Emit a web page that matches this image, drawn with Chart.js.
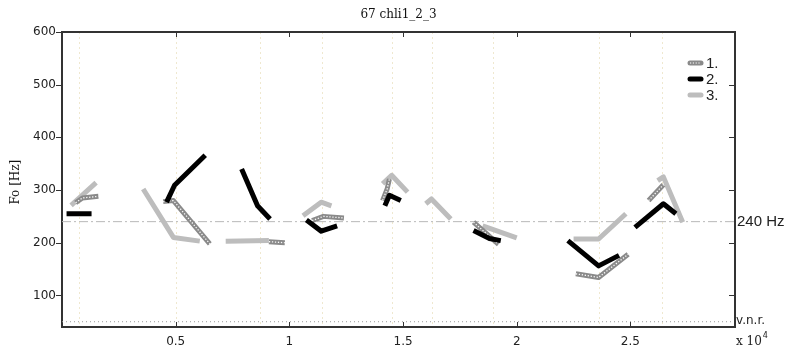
<!DOCTYPE html>
<html>
<head>
<meta charset="utf-8">
<script src="https://cdn.jsdelivr.net/npm/chart.js@4.4.0/dist/chart.umd.min.js"></script>
<style>
  html, body { margin: 0; padding: 0; background: #fff; }
  #wrap { width: 790px; height: 349px; position: relative; }
</style>
</head>
<body>
<div id="wrap"><canvas id="f0Chart"></canvas></div>
<script>
// =====================
// DATA (x in 10^4 samples, y in Hz, null = gap)
// =====================

const TITLE = "67 chli1_2_3";
const SERIES_NAMES = ["1.", "2.", "3."];

const time1 = [0.06, 0.09, 0.16, null, 0.445, 0.49, 0.65, null, 0.91, 0.98, null,
  1.10, 1.15, 1.24, null, 1.41, 1.43, 1.44, null, 1.81, 1.92, null,
  2.26, 2.36, 2.49, null, 2.58, 2.645];
const hz1 = [276, 285, 288, null, 278, 280, 198, null, 202, 200, null,
  242, 250, 247, null, 280, 302, 321, null, 239, 197, null,
  141, 134, 178, null, 280, 310];

const time2 = [0.02, 0.13, null, 0.46, 0.495, 0.63, null, 0.79, 0.86, 0.915, null,
  1.075, 1.14, 1.21, null, 1.42, 1.44, 1.49, null, 1.81, 1.88, 1.93, null,
  2.225, 2.36, 2.45, null, 2.52, 2.645, 2.70];
const hz2 = [255, 255, null, 277, 309, 366, null, 340, 270, 245, null,
  243, 222, 232, null, 270, 290, 280, null, 223, 208, 204, null,
  204, 156, 176, null, 229, 274, 255];

const time3 = [0.04, 0.15, null, 0.357, 0.49, 0.606, null, 0.72, 0.91, null,
  1.06, 1.14, 1.185, null, 1.41, 1.45, 1.52, null, 1.60, 1.625, 1.71, null,
  1.85, 2.0, null, 2.25, 2.36, 2.48, null, 2.62, 2.645, 2.73];
const hz3 = [271, 314, null, 302, 210, 203, null, 203, 204, null,
  251, 277, 270, null, 312, 328, 296, null, 274, 283, 245, null,
  232, 209, null, 207, 207, 255, null, 318, 325, 239];

const xTicks = [0.5, 1, 1.5, 2, 2.5];
const yTicks = [100, 200, 300, 400, 500, 600];
const boundaries = [0.073, 0.5, 0.869, 1.142, 1.45, 1.626, 1.894, 2.36, 2.641];
const REF_HZ = 240;
const VNR_HZ = 50;
const X_MIN = 0, X_MAX = 2.96, Y_MIN = 40, Y_MAX = 600;


// =====================
// HELPERS
// =====================

function toPoints(xs, ys) {
  let last = 0;
  return xs.map((x, i) => {
    if (x === null || ys[i] === null) return { x: last, y: null };
    last = x;
    return { x: x, y: ys[i] };
  });
}

const GRAY = "#8a8a8a", BLACK = "#000", LIGHT = "#bdbdbd";
const FRAME = "#333";


// =====================
// DECORATIONS PLUGIN
// =====================

const decor = {
  id: "decor",
  beforeDatasetsDraw(chart) {
    const { ctx, chartArea: a, scales: { x } } = chart;
    ctx.save();
    ctx.strokeStyle = "#efe8cf";
    ctx.lineWidth = 1;
    ctx.setLineDash([2, 3]);
    boundaries.forEach(b => {
      const px = Math.round(x.getPixelForValue(b)) + 0.5;
      ctx.beginPath();
      ctx.moveTo(px, a.top);
      ctx.lineTo(px, a.bottom);
      ctx.stroke();
    });
    ctx.restore();
  },
  afterDraw(chart) {
    const { ctx, chartArea: a, scales: { x, y } } = chart;
    const L = Math.round(a.left), R = Math.round(a.right);
    const T = Math.round(a.top), B = Math.round(a.bottom);
    ctx.save();
    ctx.setLineDash([]);

    // frame (top and right; left and bottom come from the axis borders)
    ctx.fillStyle = FRAME;
    ctx.fillRect(L - 1, T - 1, R - L + 2, 2);
    ctx.fillRect(R - 1, T - 1, 2, B - T + 2);

    // ticks
    xTicks.forEach(t => {
      const px = Math.round(x.getPixelForValue(t));
      ctx.fillRect(px, B - 5, 1, 4);
      ctx.fillRect(px, T + 1, 1, 4);
    });
    yTicks.forEach(t => {
      const py = Math.round(y.getPixelForValue(t));
      ctx.fillRect(L - 6, py, 5, 1);
      ctx.fillRect(R - 6, py, 5, 1);
    });

    // title
    ctx.fillStyle = "#111";
    ctx.font = "12px 'DejaVu Serif'";
    ctx.textAlign = "center";
    ctx.textBaseline = "middle";
    ctx.fillText(TITLE, (a.left + a.right) / 2, 15);

    // y title
    ctx.save();
    ctx.translate(16, y.getPixelForValue(315));
    ctx.rotate(-Math.PI / 2);
    ctx.fillText("Fo [Hz]", 0, 0);
    ctx.restore();

    // right labels
    ctx.textAlign = "left";
    ctx.fillStyle = "#222";
    ctx.font = "15px 'Liberation Sans'";
    ctx.fillText("240 Hz", R + 2, y.getPixelForValue(REF_HZ));
    ctx.font = "12px 'DejaVu Sans'";
    ctx.fillText("v.n.r.", R + 1, y.getPixelForValue(VNR_HZ) - 1);
    ctx.font = "12px 'DejaVu Serif'";
    ctx.fillText("x 10", R + 1, 342);
    const w = ctx.measureText("x 10").width;
    ctx.font = "8px 'DejaVu Sans'";
    ctx.fillText("4", R + 2 + w, 336);

    // legend
    const items = [
      { c: GRAY, dots: true, y: 63 },
      { c: BLACK, dots: false, y: 79 },
      { c: LIGHT, dots: false, y: 95 }
    ];
    items.forEach((it, i) => {
      ctx.lineCap = "round";
      ctx.strokeStyle = it.c;
      ctx.lineWidth = 5;
      ctx.beginPath();
      ctx.moveTo(690, it.y); ctx.lineTo(701, it.y);
      ctx.stroke();
      if (it.dots) {
        ctx.strokeStyle = "#fff";
        ctx.lineWidth = 1.2;
        ctx.setLineDash([1.2, 1.6]);
        ctx.lineCap = "butt";
        ctx.beginPath();
        ctx.moveTo(690, it.y); ctx.lineTo(701, it.y);
        ctx.stroke();
        ctx.setLineDash([]);
      }
      ctx.fillStyle = "#222";
      ctx.font = "15px 'Liberation Sans Narrow', 'Liberation Sans'";
      ctx.fillText(SERIES_NAMES[i], 706, it.y + 1);
    });

    ctx.restore();
  }
};


// =====================
// CHART
// =====================

const lineDefaults = {
  showLine: true,
  spanGaps: false,
  pointRadius: 0,
  pointHoverRadius: 0,
  borderJoinStyle: "round",
  fill: false
};

new Chart(document.getElementById("f0Chart"), {
  type: "scatter",
  data: {
    datasets: [
      {
        ...lineDefaults, label: "ref", order: 5,
        data: [{ x: X_MIN, y: REF_HZ }, { x: X_MAX, y: REF_HZ }],
        borderColor: "#b8b8b8", borderWidth: 1, borderDash: [9, 3, 2, 3]
      },
      {
        ...lineDefaults, label: "vnr", order: 5,
        data: [{ x: X_MIN, y: VNR_HZ }, { x: X_MAX, y: VNR_HZ }],
        borderColor: "#9a9a9a", borderWidth: 1, borderDash: [1, 3]
      },
      {
        ...lineDefaults, label: SERIES_NAMES[2], order: 4,
        data: toPoints(time3, hz3),
        borderColor: LIGHT, borderWidth: 5
      },
      {
        ...lineDefaults, label: SERIES_NAMES[0], order: 3,
        data: toPoints(time1, hz1),
        borderColor: GRAY, borderWidth: 5
      },
      {
        ...lineDefaults, label: "dots", order: 2,
        data: toPoints(time1, hz1),
        borderColor: "rgba(255,255,255,0.95)", borderWidth: 1.3, borderDash: [1.3, 1.7]
      },
      {
        ...lineDefaults, label: SERIES_NAMES[1], order: 1,
        data: toPoints(time2, hz2),
        borderColor: BLACK, borderWidth: 5
      }
    ]
  },
  options: {
    responsive: true,
    maintainAspectRatio: false,
    animation: false,
    layout: { padding: { top: 32, right: 55, left: 0, bottom: 0 } },
    plugins: {
      legend: { display: false },
      title: { display: false },
      tooltip: { enabled: false }
    },
    scales: {
      x: {
        type: "linear",
        min: X_MIN, max: X_MAX,
        grid: { display: false, drawTicks: false },
        border: { display: true, color: FRAME, width: 2 },
        afterBuildTicks: s => { s.ticks = xTicks.map(v => ({ value: v })); },
        afterFit: s => { s.height = 22; },
        ticks: {
          padding: 8,
          color: "#222",
          font: { family: "DejaVu Sans", size: 12 },
          maxRotation: 0,
          callback: v => String(v)
        }
      },
      y: {
        type: "linear",
        min: Y_MIN, max: Y_MAX,
        grid: { display: false, drawTicks: false },
        border: { display: true, color: FRAME, width: 2 },
        afterBuildTicks: s => { s.ticks = yTicks.map(v => ({ value: v })); },
        afterFit: s => { s.width = 62; },
        ticks: {
          padding: 6,
          color: "#222",
          font: { family: "DejaVu Sans", size: 12 }
        }
      }
    }
  },
  plugins: [decor]
});
</script>
</body>
</html>
